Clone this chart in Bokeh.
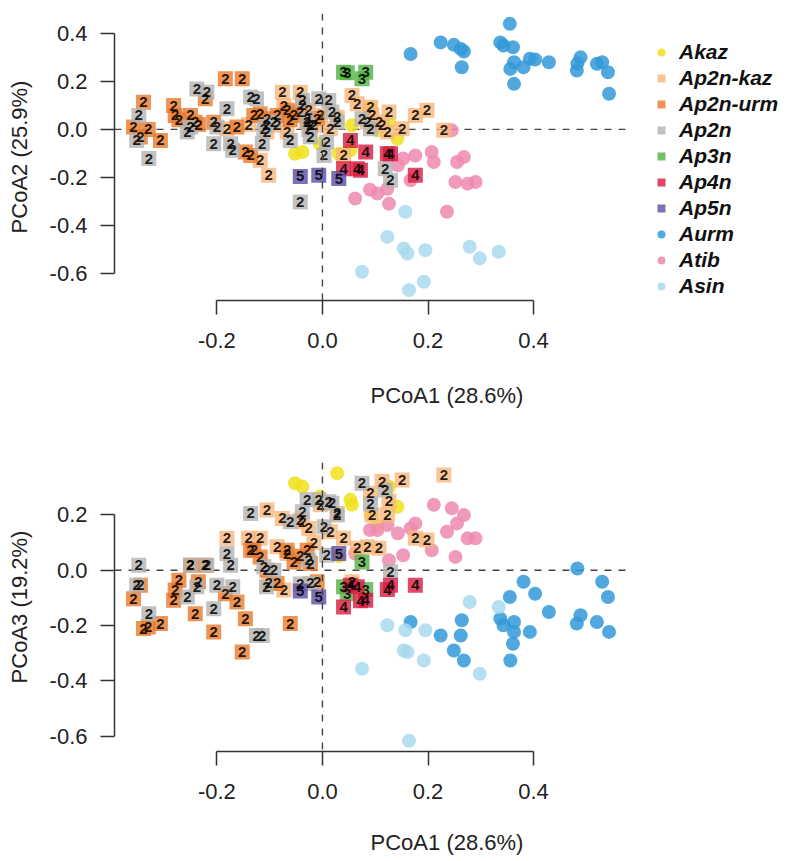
from bokeh.plotting import figure
from bokeh.models import (ColumnDataSource, Span, FixedTicker, PrintfTickFormatter,
                          Legend, LegendItem, Range1d)
from bokeh.layouts import column
from bokeh.embed import file_html
from bokeh.resources import INLINE
from bokeh.core.properties import value

# ---------------- data ----------------
groups = ["Akaz", "Ap2n-kaz", "Ap2n-urm", "Ap2n", "Ap3n", "Ap4n", "Ap5n", "Aurm", "Atib", "Asin"]
colors = ["#F0E01C", "#F8B67C", "#E8792C", "#B3B3B3", "#52B043", "#D81B3F", "#5B4CA8",
          "#3399D8", "#EE8AB0", "#A9D9EF"]
ploidy_labels = ["", "2", "2", "2", "3", "4", "5", "", "", ""]

akaz_pc1 = [-0.052, -0.038, -0.005, 0.028, 0.031, 0.053, 0.056, 0.091, 0.104, 0.126, 0.142]
akaz_pc2 = [-0.101, -0.094, -0.060, 0.050, -0.101, -0.087, 0.017, 0.092, -0.004, 0.030, -0.039]
akaz_pc3 = [0.314, 0.302, 0.266, 0.350, 0.050, 0.254, 0.236, 0.200, 0.160, 0.302, 0.229]

kaz2n_pc1 = [-0.181, -0.140, -0.118, -0.105, -0.102, -0.086, -0.076, -0.073, -0.067, -0.042,
             -0.038, -0.026, -0.016, -0.004, 0.015, 0.028, 0.040, 0.056, 0.066, 0.085,
             0.091, 0.094, 0.107, 0.113, 0.123, 0.126, 0.151, 0.176, 0.198, 0.230]
kaz2n_pc2 = [0.003, 0.020, -0.128, -0.011, -0.190, 0.017, 0.154, 0.099, -0.011, 0.154,
             0.100, 0.080, 0.017, 0.058, 0.003, 0.050, -0.108, 0.141, 0.106, 0.030,
             0.092, 0.060, 0.030, 0.017, -0.011, 0.072, 0.003, 0.058, 0.079, -0.004]
kaz2n_pc3 = [0.115, 0.115, 0.115, 0.217, -0.048, 0.085, 0.187, -0.072, 0.060, 0.181,
             0.175, 0.151, 0.100, 0.236, 0.139, 0.205, 0.115, -0.042, 0.079, 0.085,
             0.278, 0.199, 0.079, 0.320, 0.199, 0.250, 0.326, 0.115, 0.109, 0.344]

urm2n_pc1 = [-0.358, -0.345, -0.339, -0.330, -0.307, -0.282, -0.279, -0.272, -0.250, -0.241,
             -0.235, -0.222, -0.206, -0.184, -0.162, -0.152, -0.146, -0.136, -0.130, -0.118,
             -0.105, -0.086, -0.067, -0.061, -0.054, -0.042, -0.029, -0.023, -0.010]
urm2n_pc2 = [0.010, -0.032, 0.113, 0.000, -0.046, 0.099, 0.058, 0.040, 0.058, 0.030,
             0.020, 0.127, 0.030, 0.210, 0.010, 0.210, -0.094, -0.108, 0.058, 0.065,
             0.044, 0.058, 0.080, 0.040, 0.058, 0.072, 0.030, 0.017, 0.045]
urm2n_pc3 = [-0.103, -0.054, -0.211, -0.205, -0.193, -0.109, -0.072, -0.036, 0.018, -0.157,
             -0.042, 0.018, -0.223, -0.085, -0.115, -0.296, -0.175, 0.072, 0.072, 0.048,
             0.000, -0.048, 0.072, -0.193, 0.030, 0.050, 0.072, 0.024, -0.042]

ap2n_pc1 = [-0.348, -0.352, -0.329, -0.256, -0.250, -0.238, -0.219, -0.206, -0.200, -0.181,
            -0.174, -0.170, -0.136, -0.125, -0.114, -0.111, -0.092, -0.106, -0.061, -0.042,
            -0.038, -0.029, -0.026, -0.023, -0.007, 0.003, 0.008, 0.012, 0.018, 0.028,
            0.075, 0.091, 0.119, 0.129]
ap2n_pc2 = [0.058, -0.046, -0.121, -0.011, 0.010, 0.168, 0.154, -0.059, 0.010, 0.086,
            -0.059, -0.087, 0.134, 0.127, -0.059, 0.000, 0.030, 0.020, -0.046, -0.301,
            0.120, 0.045, 0.000, -0.030, 0.127, -0.108, -0.053, 0.120, 0.072, 0.030,
            0.044, 0.003, -0.163, -0.211]
ap2n_pc3 = [0.018, -0.054, -0.157, -0.097, 0.018, -0.060, 0.018, -0.139, -0.054, 0.060,
            0.018, -0.060, 0.205, -0.236, -0.236, 0.012, 0.000, -0.060, 0.175, -0.050,
            0.211, 0.254, 0.036, -0.048, 0.254, 0.157, 0.054, 0.247, 0.242, 0.199,
            0.314, 0.240, 0.290, -0.006]

ap3n_pc1 = [0.040, 0.047, 0.075, 0.082]
ap3n_pc2 = [0.237, 0.235, 0.210, 0.237]
ap3n_pc3 = [-0.060, -0.085, 0.030, -0.070]

ap4n_pc1 = [0.040, 0.053, 0.066, 0.072, 0.082, 0.123, 0.129, 0.176]
ap4n_pc2 = [-0.163, -0.046, -0.163, -0.170, -0.094, -0.101, -0.101, -0.190]
ap4n_pc3 = [-0.133, -0.054, -0.060, -0.110, -0.109, -0.070, -0.054, -0.054]

ap5n_pc1 = [-0.042, -0.007, 0.031]
ap5n_pc2 = [-0.195, -0.190, -0.204]
ap5n_pc3 = [-0.075, -0.097, 0.060]

aurm_pc1 = [0.167, 0.224, 0.249, 0.262, 0.264, 0.268, 0.337, 0.343, 0.355, 0.356, 0.361, 0.363,
            0.363, 0.381, 0.393, 0.403, 0.429, 0.482, 0.483, 0.489, 0.520, 0.530, 0.541, 0.543]
aurm_pc2 = [0.313, 0.361, 0.351, 0.334, 0.258, 0.323, 0.361, 0.348, 0.438, 0.251, 0.341, 0.279,
            0.189, 0.258, 0.293, 0.290, 0.279, 0.244, 0.273, 0.299, 0.272, 0.279, 0.237, 0.148]
aurm_pc3 = [-0.187, -0.236, -0.290, -0.236, -0.181, -0.326, -0.175, -0.199, -0.097, -0.326, -0.266, -0.187,
            -0.223, -0.042, -0.223, -0.085, -0.151, -0.193, 0.006, -0.163, -0.187, -0.042, -0.097, -0.223]

atib_pc1 = [0.062, 0.090, 0.104, 0.123, 0.126, 0.143, 0.153, 0.167, 0.176, 0.207, 0.211, 0.236,
            0.245, 0.252, 0.255, 0.268, 0.275, 0.290]
atib_pc2 = [-0.287, -0.250, -0.266, -0.246, -0.308, -0.149, -0.121, -0.211, -0.108, -0.094, -0.135, -0.342,
            -0.004, -0.218, -0.135, -0.115, -0.225, -0.218]
atib_pc3 = [0.060, 0.145, 0.145, 0.163, 0.036, 0.133, 0.054, 0.151, 0.169, 0.072, 0.236, 0.139,
            0.224, 0.048, 0.169, 0.199, 0.115, 0.115]

asin_pc1 = [0.075, 0.123, 0.154, 0.157, 0.161, 0.164, 0.192, 0.195, 0.279, 0.298, 0.334]
asin_pc2 = [-0.591, -0.446, -0.494, -0.342, -0.515, -0.667, -0.632, -0.501, -0.487, -0.535, -0.508]
asin_pc3 = [-0.356, -0.199, -0.290, -0.217, -0.296, -0.616, -0.326, -0.217, -0.115, -0.374, -0.133]

pc1 = [akaz_pc1, kaz2n_pc1, urm2n_pc1, ap2n_pc1, ap3n_pc1, ap4n_pc1, ap5n_pc1, aurm_pc1, atib_pc1, asin_pc1]
pc2 = [akaz_pc2, kaz2n_pc2, urm2n_pc2, ap2n_pc2, ap3n_pc2, ap4n_pc2, ap5n_pc2, aurm_pc2, atib_pc2, asin_pc2]
pc3 = [akaz_pc3, kaz2n_pc3, urm2n_pc3, ap2n_pc3, ap3n_pc3, ap4n_pc3, ap5n_pc3, aurm_pc3, atib_pc3, asin_pc3]

x_label = "PCoA1 (28.6%)"
y2_label = "PCoA2 (25.9%)"
y3_label = "PCoA3 (19.2%)"
x_ticks = [-0.2, 0.0, 0.2, 0.4]
y2_ticks = [-0.6, -0.4, -0.2, 0.0, 0.2, 0.4]
y3_ticks = [-0.6, -0.4, -0.2, 0.0, 0.2]

FONT = "Liberation Sans"
circle_groups = [0, 7, 8, 9]
square_order = [1, 2, 3, 4, 5, 6]

# plot region (R "usr") in x, and the wider canvas range that leaves room for the legend
X_LO, X_HI = -0.394, 0.578
X_CANVAS_HI = 0.866


def make_panel(ycols, yticks, ylabel, yrange, height, b_top, b_bottom, xlab_standoff, legend):
    p = figure(width=779, height=height, output_backend="svg", toolbar_location=None,
               x_range=Range1d(X_LO, X_CANVAS_HI), y_range=Range1d(*yrange),
               min_border_left=114, min_border_right=0, min_border_top=b_top,
               min_border_bottom=b_bottom, background_fill_color="white")
    p.outline_line_color = None
    p.xgrid.visible = False
    p.ygrid.visible = False

    # reference lines at 0 (horizontal one limited to the plot region)
    p.segment(x0=[X_LO], x1=[X_HI], y0=[0], y1=[0], line_dash="7 7",
              line_color="#444444", line_width=1.4)
    p.add_layout(Span(location=0, dimension="height", line_dash="7 7",
                      line_color="#444444", line_width=1.4))

    renderers = {}
    for gi in circle_groups:
        src = ColumnDataSource(dict(x=pc1[gi], y=ycols[gi]))
        renderers[gi] = p.scatter("x", "y", source=src, marker="circle", size=14,
                                  fill_color=colors[gi], fill_alpha=0.85, line_color=None)
    for gi in square_order:
        src = ColumnDataSource(dict(x=pc1[gi], y=ycols[gi]))
        renderers[gi] = p.scatter("x", "y", source=src, marker="square", size=15,
                                  fill_color=colors[gi], fill_alpha=0.8, line_color=None)
    for gi in square_order:
        src = ColumnDataSource(dict(x=pc1[gi], y=ycols[gi],
                                    t=[ploidy_labels[gi]] * len(pc1[gi])))
        p.text("x", "y", text="t", source=src, text_align="center", text_baseline="middle",
               text_font=value(FONT), text_font_size="15px", text_font_style="bold",
               text_color="black", text_alpha=0.85)

    for ax in (p.xaxis[0], p.yaxis[0]):
        ax.axis_line_color = "#333333"
        ax.axis_line_width = 1.5
        ax.major_tick_line_color = "#333333"
        ax.major_tick_line_width = 1.5
        ax.major_tick_out = 14
        ax.major_tick_in = 0
        ax.minor_tick_line_color = None
        ax.major_label_text_font = FONT
        ax.major_label_text_font_size = "22px"
        ax.major_label_text_color = "#222222"
        ax.axis_label_text_font = FONT
        ax.axis_label_text_font_size = "22px"
        ax.axis_label_text_font_style = "normal"
        ax.axis_label_text_color = "#222222"
        ax.formatter = PrintfTickFormatter(format="%.1f")

    p.xaxis.ticker = FixedTicker(ticks=x_ticks)
    p.xaxis.bounds = (x_ticks[0], x_ticks[-1])
    p.xaxis.axis_label = x_label
    p.xaxis.major_label_standoff = 18
    p.xaxis.axis_label_standoff = xlab_standoff

    p.yaxis.ticker = FixedTicker(ticks=yticks)
    p.yaxis.bounds = (yticks[0], yticks[-1])
    p.yaxis.axis_label = ylabel
    p.yaxis.major_label_standoff = 13
    p.yaxis.axis_label_standoff = 15

    if legend:
        items = [LegendItem(label=groups[gi], renderers=[renderers[gi]]) for gi in range(len(groups))]
        leg = Legend(items=items, location=(537, 1), orientation="vertical",
                     padding=0, margin=0, spacing=0, glyph_width=20, glyph_height=26,
                     label_height=26, label_standoff=8, border_line_color=None,
                     background_fill_alpha=0, label_text_font=FONT,
                     label_text_font_size="21px", label_text_font_style="bold italic",
                     label_text_color="#111111")
        p.add_layout(leg)
    return p


top = make_panel(pc2, y2_ticks, y2_label, (-0.710, 0.481), 420, 13, 120, 32, True)
bottom = make_panel(pc3, y3_ticks, y3_label, (-0.655, 0.389), 441, 42, 110, 28, False)

layout = column(top, bottom, spacing=0)
open("out.html", "w").write(file_html(layout, INLINE))
